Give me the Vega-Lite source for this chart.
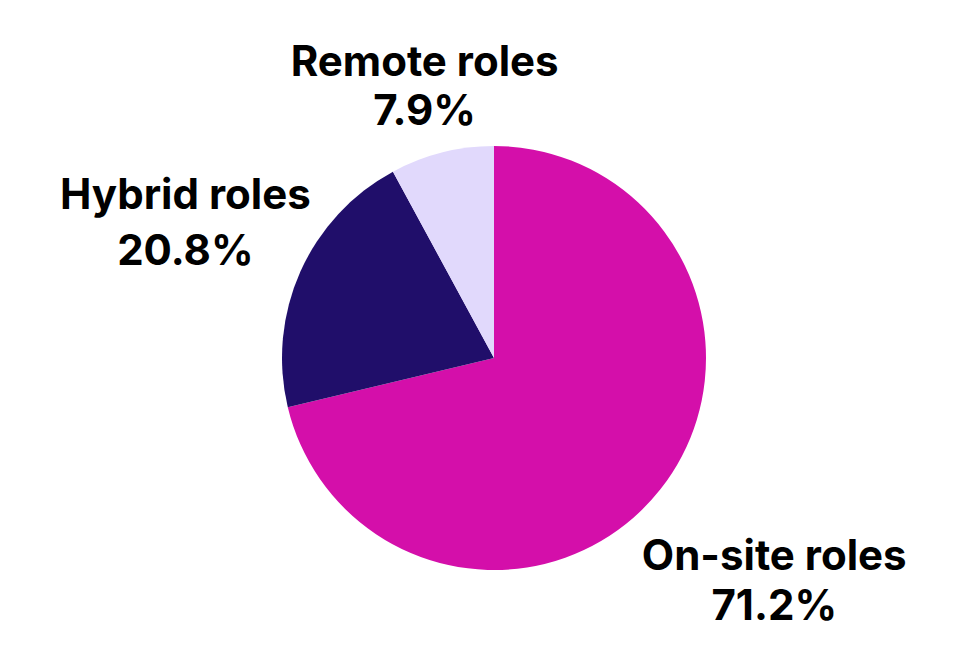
{
  "$schema": "https://vega.github.io/schema/vega-lite/v6.json",
  "width": 968,
  "height": 716,
  "autosize": {"type": "none"},
  "padding": {"left": 10, "top": 0, "right": 0, "bottom": 0},
  "background": "white",
  "view": {"stroke": null},
  "config": {"text": {"font": "Inter", "fontWeight": "bold", "fontSize": 42, "color": "#000000"}},
  "data": {"values": [
    {"role": "On-site roles", "share": 71.2, "label": "71.2%"},
    {"role": "Hybrid roles", "share": 20.8, "label": "20.8%"},
    {"role": "Remote roles", "share": 7.9, "label": "7.9%"}
  ]},
  "encoding": {
    "theta": {"field": "share", "type": "quantitative", "stack": true},
    "order": {"field": "share", "type": "quantitative", "sort": "descending"},
    "detail": {"field": "role", "type": "nominal"}
  },
  "layer": [
    {
      "mark": {"type": "arc", "outerRadius": 212},
      "encoding": {
        "color": {"field": "role", "type": "nominal", "legend": null,
          "scale": {"domain": ["On-site roles", "Hybrid roles", "Remote roles"], "range": ["#D40FAA", "#200E6A", "#E1D9FC"]}}
      }
    },
    {"mark": {"type": "text", "radius": 282, "dy": -22},
     "encoding": {"text": {"condition": {"test": "datum.role === 'Remote roles'", "field": "role"}, "value": ""}}},
    {"mark": {"type": "text", "radius": 282, "dy": 27},
     "encoding": {"text": {"condition": {"test": "datum.role === 'Remote roles'", "field": "label"}, "value": ""}}},
    {"mark": {"type": "text", "radius": 338, "dy": -24},
     "encoding": {"text": {"condition": {"test": "datum.role === 'Hybrid roles'", "field": "role"}, "value": ""}}},
    {"mark": {"type": "text", "radius": 338, "dy": 32},
     "encoding": {"text": {"condition": {"test": "datum.role === 'Hybrid roles'", "field": "label"}, "value": ""}}},
    {"mark": {"type": "text", "radius": 357, "dy": -22},
     "encoding": {"text": {"condition": {"test": "datum.role === 'On-site roles'", "field": "role"}, "value": ""}}},
    {"mark": {"type": "text", "radius": 357, "dy": 28},
     "encoding": {"text": {"condition": {"test": "datum.role === 'On-site roles'", "field": "label"}, "value": ""}}}
  ]
}
